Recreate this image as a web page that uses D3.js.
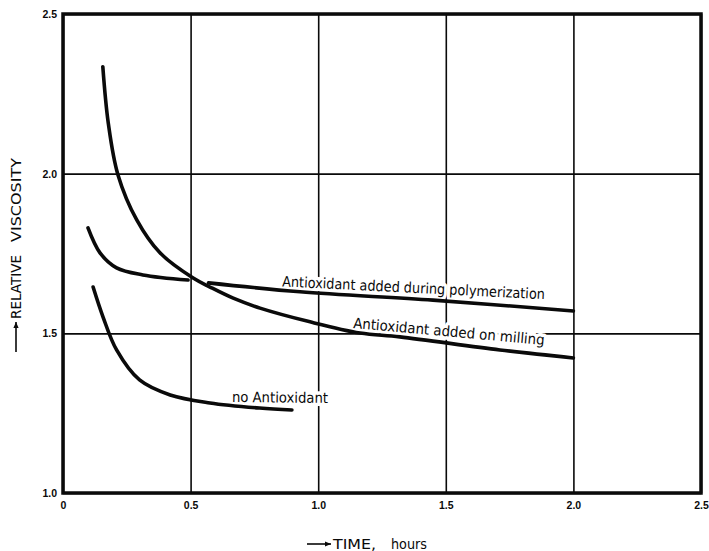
<!DOCTYPE html>
<html><head><meta charset="utf-8">
<script src="https://cdn.jsdelivr.net/npm/d3@7"></script>
<style>
html,body{margin:0;padding:0;background:#fff;}
svg{display:block;}
</style>
</head><body>
<svg id="chart" width="709" height="551"></svg>
<script>
// ---- data ----
const xTicks = [0, 0.5, 1.0, 1.5, 2.0, 2.5];
const xTickLabels = ["0", "0.5", "1.0", "1.5", "2.0", "2.5"];
const yTicks = [1.0, 1.5, 2.0, 2.5];
const yTickLabels = ["1.0", "1.5", "2.0", "2.5"];

const millingTime = [0.156, 0.1775, 0.2155, 0.289, 0.38, 0.51, 0.576, 0.667, 0.772, 0.968, 1.164, 1.32, 1.712, 2.0];
const millingVisc = [2.335, 2.158, 1.996, 1.855, 1.752, 1.673, 1.645, 1.61, 1.579, 1.536, 1.501, 1.489, 1.448, 1.423];

const polyTime = [0.098, 0.145, 0.21, 0.313, 0.49, null, 0.57, 0.929, 1.45, 2.0];
const polyVisc = [1.83, 1.752, 1.705, 1.683, 1.667, null, 1.658, 1.63, 1.604, 1.57];

const noneTime = [0.118, 0.157, 0.21, 0.30, 0.42, 0.576, 0.77, 0.897];
const noneVisc = [1.645, 1.551, 1.448, 1.354, 1.307, 1.282, 1.266, 1.26];

const seriesNames = ["Antioxidant added during polymerization", "Antioxidant added on milling", "no Antioxidant"];
const xTitle = ["TIME,", "hours"];
const yTitle = ["RELATIVE", "VISCOSITY"];

// ---- drawing ----
const svg = d3.select("#chart");
const x = d3.scaleLinear().domain([0, 2.5]).range([63, 701]);
const y = d3.scaleLinear().domain([1.0, 2.5]).range([493, 14]);
const ink = "#0a0a0a";
const tickFont = "'Liberation Sans', Arial, sans-serif";
const labelFont = "'DejaVu Sans', 'Noto Sans', sans-serif";

// gridlines + tick labels through axes
const xAxis = d3.axisBottom(x).tickValues(xTicks)
  .tickFormat((d, i) => xTickLabels[i])
  .tickSizeInner(-(y(1.0) - y(2.5))).tickSizeOuter(0).tickPadding(9);
const gx = svg.append("g").attr("transform", `translate(0,${y(1.0)})`).call(xAxis);
gx.select(".domain").remove();
gx.selectAll("line").attr("stroke", ink).attr("stroke-width", 1.6);
gx.selectAll("text").attr("fill", ink).attr("font-family", tickFont)
  .attr("font-weight", "bold").attr("font-size", 10.5);

const yAxis = d3.axisLeft(y).tickValues(yTicks)
  .tickFormat((d, i) => yTickLabels[i])
  .tickSizeInner(-(x(2.5) - x(0))).tickSizeOuter(0).tickPadding(6);
const gy = svg.append("g").attr("transform", `translate(${x(0)},0)`).call(yAxis);
gy.select(".domain").remove();
gy.selectAll("line").attr("stroke", ink).attr("stroke-width", 1.6);
gy.selectAll("text").attr("fill", ink).attr("font-family", tickFont)
  .attr("font-weight", "bold").attr("font-size", 10.5);

// frame
svg.append("rect")
  .attr("x", x(0)).attr("y", y(2.5))
  .attr("width", x(2.5) - x(0)).attr("height", y(1.0) - y(2.5))
  .attr("fill", "none").attr("stroke", ink).attr("stroke-width", 3.5);

// curve labels with white halos (break gridlines like the original)
function curveLabel(text, tx, ty, angle, len, size) {
  svg.append("text")
    .attr("transform", `translate(${x(tx)},${y(ty)}) rotate(${angle})`)
    .attr("font-family", labelFont).attr("font-size", size)
    .attr("textLength", len).attr("lengthAdjust", "spacingAndGlyphs")
    .attr("fill", ink)
    .attr("stroke", "#fff").attr("stroke-width", 7).attr("stroke-linejoin", "round")
    .attr("paint-order", "stroke")
    .text(text);
}
curveLabel(seriesNames[0], 0.858, 1.647, 2.8, 263, 14.5);
curveLabel(seriesNames[1], 1.136, 1.517, 5.1, 192, 14.5);
curveLabel(seriesNames[2], 0.662, 1.285, 0.6, 96, 14.5);

// curves
const line = d3.line()
  .defined(d => d[0] !== null)
  .x(d => x(d[0])).y(d => y(d[1]))
  .curve(d3.curveCatmullRom.alpha(0.5));
function drawCurve(ts, vs) {
  const pts = ts.map((t, i) => [t, vs[i]]);
  svg.append("path").datum(pts).attr("d", line)
    .attr("fill", "none").attr("stroke", ink).attr("stroke-width", 3.6)
    .attr("stroke-linecap", "round").attr("stroke-linejoin", "round");
}
drawCurve(polyTime, polyVisc);
drawCurve(millingTime, millingVisc);
drawCurve(noneTime, noneVisc);

// arrow helper
function arrow(x1, y1, x2, y2) {
  svg.append("line").attr("x1", x1).attr("y1", y1).attr("x2", x2).attr("y2", y2)
    .attr("stroke", ink).attr("stroke-width", 1.6);
  const a = Math.atan2(y2 - y1, x2 - x1), L = 6, W = 2.6;
  const p = [
    [x2, y2],
    [x2 - L * Math.cos(a) + W * Math.sin(a), y2 - L * Math.sin(a) - W * Math.cos(a)],
    [x2 - L * Math.cos(a) - W * Math.sin(a), y2 - L * Math.sin(a) + W * Math.cos(a)]
  ];
  svg.append("polygon").attr("points", p.map(q => q.join(",")).join(" ")).attr("fill", ink);
}

// x title
arrow(307, 544, 331, 544);
svg.append("text").attr("x", 333).attr("y", 549)
  .attr("font-family", labelFont).attr("font-size", 14).attr("fill", ink)
  .attr("textLength", 43).attr("lengthAdjust", "spacingAndGlyphs").text(xTitle[0]);
svg.append("text").attr("x", 391).attr("y", 549)
  .attr("font-family", labelFont).attr("font-size", 14).attr("fill", ink)
  .attr("textLength", 36).attr("lengthAdjust", "spacingAndGlyphs").text(xTitle[1]);

// y title
arrow(16, 352, 16, 322);
svg.append("text").attr("transform", "translate(21,319) rotate(-90)")
  .attr("font-family", labelFont).attr("font-size", 14).attr("fill", ink)
  .attr("textLength", 64).attr("lengthAdjust", "spacingAndGlyphs").text(yTitle[0]);
svg.append("text").attr("transform", "translate(21,242) rotate(-90)")
  .attr("font-family", labelFont).attr("font-size", 14).attr("fill", ink)
  .attr("textLength", 84).attr("lengthAdjust", "spacingAndGlyphs").text(yTitle[1]);
</script>
</body></html>
